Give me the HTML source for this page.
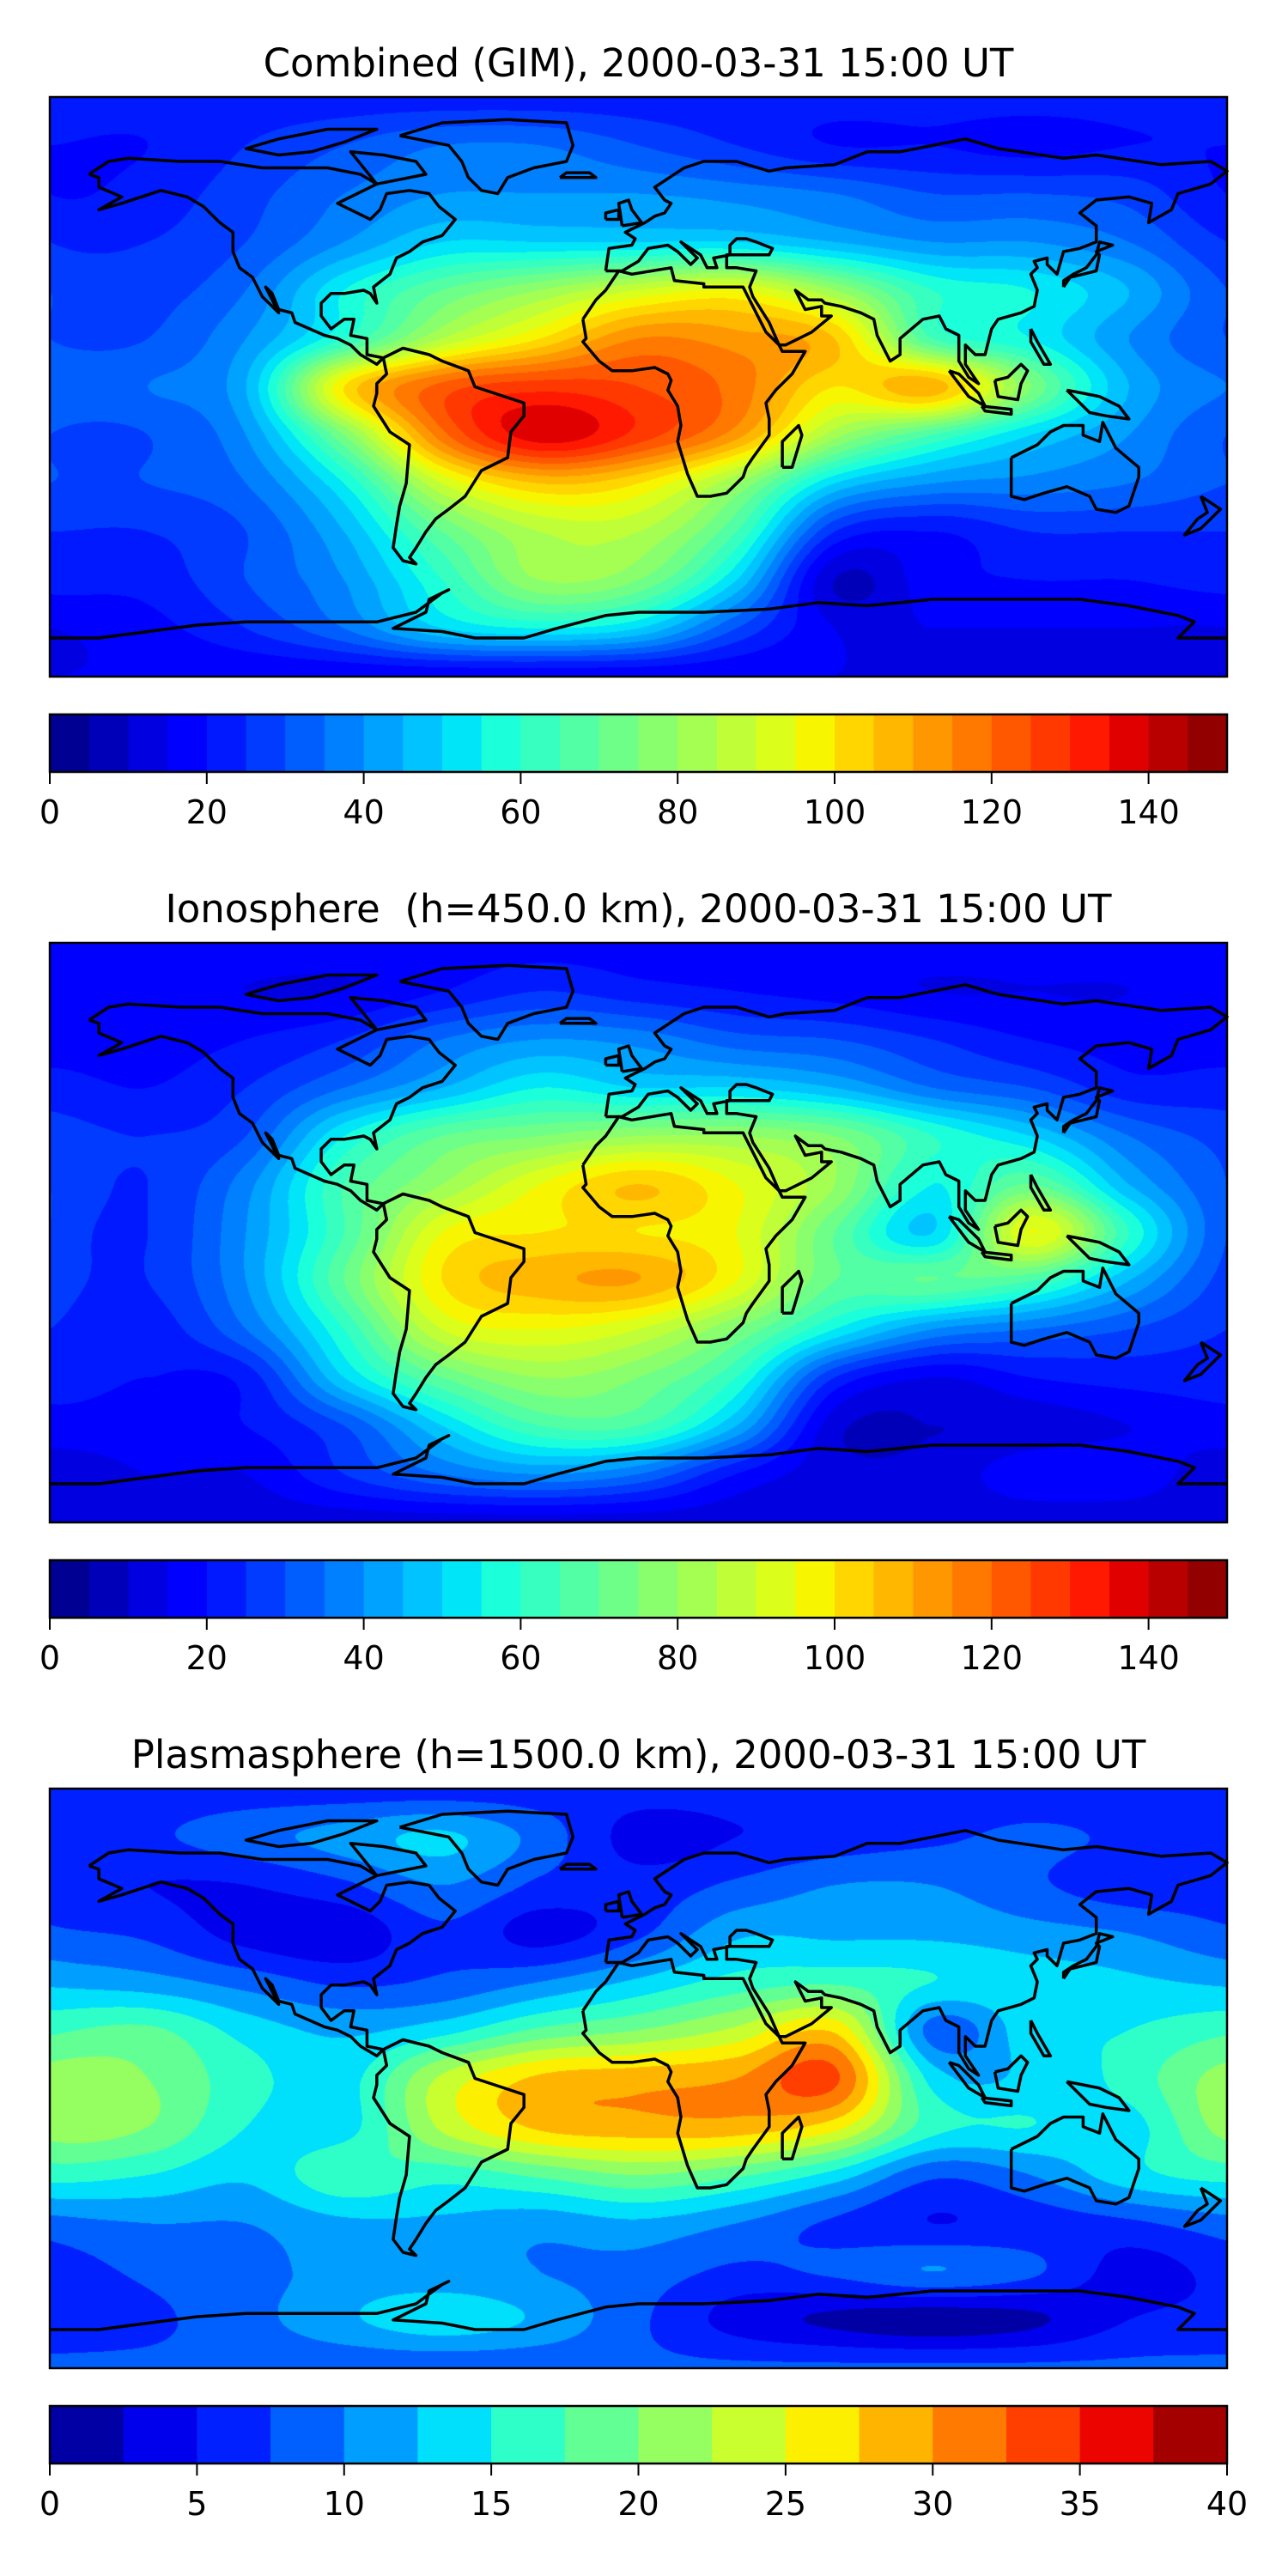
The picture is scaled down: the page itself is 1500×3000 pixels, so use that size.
<!DOCTYPE html>
<html><head><meta charset="utf-8">
<style>
html,body{margin:0;padding:0;background:#fff;}
#root{position:relative;width:1500px;height:3000px;overflow:hidden;background:#fff;}
canvas{position:absolute;}
svg{position:absolute;left:0;top:0;}
</style></head>
<body>
<div id="root">
<canvas id="c0" width="1371" height="675" style="left:58px;top:113px"></canvas>
<canvas id="c1" width="1371" height="675" style="left:58px;top:1098px"></canvas>
<canvas id="c2" width="1371" height="675" style="left:58px;top:2083px"></canvas>
<svg id="ov" width="1500" height="3000" xmlns="http://www.w3.org/2000/svg"></svg>
</div>
<script>
// ---------- data ----------
const lonTicks = [-180,-150,-120,-90,-60,-30,0,30,60,90,120,150,180];
const latRows = [90,75,60,45,30,15,0,-15,-30,-45,-60,-75,-90];
const titles = ["Combined (GIM), 2000-03-31 15:00 UT","Ionosphere  (h=450.0 km), 2000-03-31 15:00 UT","Plasmasphere (h=1500.0 km), 2000-03-31 15:00 UT"];
const tickLabels0 = [0,20,40,60,80,100,120,140];
const tickLabels2 = [0,5,10,15,20,25,30,35,40];
const levelMax = [150,150,40];
const levelStep = [5,5,2.5];
const gridCombined = [
[22,22,22,22,22,22,22,22,22,22,22,22,22],
[20,20,25,30,35,35,30,25,20,20,18,20,20],
[20,22,28,35,40,40,40,38,35,30,30,28,20],
[25,25,30,40,50,50,50,50,45,40,40,35,25],
[30,28,35,55,70,80,90,95,80,60,55,45,30],
[30,30,40,60,85,100,115,112,105,65,55,40,30],
[35,35,45,100,122,128,125,118,100,108,75,45,35],
[30,30,40,75,118,138,128,112,82,65,50,40,30],
[30,30,35,55,90,105,100,80,50,40,38,35,30],
[25,25,30,45,70,85,85,65,25,20,25,25,25],
[22,22,30,40,60,80,75,50,10,18,20,20,22],
[15,18,25,35,50,55,50,30,15,15,15,15,15],
[15,15,15,15,15,15,15,15,15,15,15,15,15]];
const gridIono = [
[18,18,18,18,18,18,18,18,18,18,18,18,18],
[18,18,15,15,20,25,22,20,18,15,15,15,18],
[18,18,20,25,35,40,38,32,30,25,20,18,18],
[22,20,25,35,45,55,50,50,45,35,30,22,22],
[28,25,30,55,70,75,80,80,75,60,50,35,28],
[30,25,38,65,80,95,105,95,80,55,70,45,30],
[30,25,40,65,95,100,100,95,70,50,95,60,30],
[28,25,40,70,100,108,110,95,70,70,65,45,28],
[25,22,35,60,90,95,90,75,55,40,35,30,25],
[22,20,22,50,70,80,75,60,25,15,20,22,22],
[18,18,20,30,50,65,65,45,12,10,12,15,18],
[12,15,15,25,35,40,35,20,12,12,18,18,12],
[12,12,12,12,12,12,12,12,12,12,12,12,12]];
const gridPlasma = [
[6,6,6,6,6,6,6,6,6,6,6,6,6],
[6,7,9,11,13,9,4,5,6,7,8,7,6],
[6,5,5,7,10,7,6,8,10,10,8,6,6],
[8,7,4,3,7,4,7,12,12,12,11,10,8],
[12,11,9,7,8,10,13,16,17,15,14,13,12],
[17,18,14,12,14,18,20,23,27,9,14,15,17],
[21,20,16,14,23,28,29,30,33,14,13,16,21],
[21,20,15,14,23,28,29,29,26,16,15,14,21],
[16,15,13,17,16,18,20,18,14,8,10,14,16],
[9,10,10,12,12,11,12,10,7,5,6,7,9],
[6,8,9,11,11,10,9,7,8,10,8,4,6],
[6,7,9,12,14,12,8,4,2,1,2,5,6],
[8,8,8,8,8,8,8,8,8,8,8,8,8]];
const grids = [gridCombined, gridIono, gridPlasma];

// ---------- geometry ----------
const MX0=58, MW=1371, MH=675, mapTops=[113,1098,2083];
const cbOff = 719, cbH = 67;
function xOfLon(lon){return MX0 + (lon+180)/360*MW;}
function yOfLat(lat,top){return top + (90-lat)/180*MH;}

// ---------- jet ----------
function seg(pts,x){for(let i=1;i<pts.length;i++){if(x<=pts[i][0]){const a=pts[i-1],b=pts[i];return a[1]+(b[1]-a[1])*(x-a[0])/(b[0]-a[0]);}}return pts[pts.length-1][1];}
const R=[[0,0],[0.35,0],[0.66,1],[0.89,1],[1,0.5]],G=[[0,0],[0.125,0],[0.375,1],[0.64,1],[0.91,0],[1,0]],B=[[0,0.5],[0.11,1],[0.34,1],[0.65,0],[1,0]];
function jet(x){return [Math.round(255*seg(R,x)),Math.round(255*seg(G,x)),Math.round(255*seg(B,x))];}
function palette(p){const n=Math.round(levelMax[p]/levelStep[p]);const a=[];for(let i=0;i<n;i++)a.push(jet((i+0.5)/n));return a;}

// ---------- interpolation ----------
function cr(p0,p1,p2,p3,t){return 0.5*((2*p1)+(-p0+p2)*t+(2*p0-5*p1+4*p2-p3)*t*t+(-p0+3*p1-3*p2+p3)*t*t*t);}
function drawMap(p){
  const g=grids[p], cv=document.getElementById('c'+p), ctx=cv.getContext('2d');
  const img=ctx.createImageData(MW,MH), d=img.data, pal=palette(p), n=pal.length, st=levelStep[p];
  const nc=lonTicks.length-1, nr=latRows.length-1;
  const col=(j)=>((j%nc)+nc)%nc, row=(i)=>Math.max(0,Math.min(nr,i));
  const rowVals=new Float32Array(nc);
  for(let py=0;py<MH;py++){
    const v=(py+0.5)/MH*nr, i=Math.floor(v), t=v-i;
    for(let j=0;j<nc;j++){rowVals[j]=cr(g[row(i-1)][j],g[row(i)][j],g[row(i+1)][j],g[row(i+2)][j],t);}
    for(let px=0;px<MW;px++){
      const u=(px+0.5)/MW*nc, k=Math.floor(u), s=u-k;
      const val=cr(rowVals[col(k-1)],rowVals[col(k)],rowVals[col(k+1)],rowVals[col(k+2)],s);
      let li=Math.floor(val/st); if(li<0)li=0; if(li>n-1)li=n-1;
      const c=pal[li], o=(py*MW+px)*4;
      d[o]=c[0];d[o+1]=c[1];d[o+2]=c[2];d[o+3]=255;
    }
  }
  ctx.putImageData(img,0,0);
}

// ---------- coastlines ----------
const coasts = {
 "north-america":[[-168,66],[-162,70],[-156,71],[-140,70],[-128,70],[-115,68],[-95,68],[-85,66],[-80,63],[-90,58],[-92,57],[-82,52],[-79,55],[-77,60],[-70,61],[-64,60],[-61,56],[-56,52],[-60,47],[-66,45],[-70,42],[-74,40],[-76,35],[-81,31],[-80,26],[-82,29],[-84,30],[-90,29],[-94,29],[-97,26],[-97,22],[-94,18],[-90,21],[-87,21],[-88,16],[-83,15],[-83,10],[-78,9],[-80,7],[-85,10],[-88,13],[-92,15],[-96,16],[-105,20],[-106,23],[-110,24],[-112,29],[-114,31],[-110,23],[-115,28],[-118,34],[-122,37],[-124,42],[-124,48],[-128,51],[-133,56],[-138,59],[-146,61],[-152,59],[-158,57],[-165,55],[-158,59],[-165,62],[-165,65],[-168,66]],
 "greenland":[[-73,78],[-60,82],[-40,83],[-22,82],[-20,75],[-22,70],[-32,68],[-40,65],[-43,60],[-48,61],[-52,65],[-54,70],[-58,75],[-68,77],[-73,78]],
 "baffin":[[-80,63],[-65,66],[-68,70],[-78,72],[-88,73],[-80,63]],
 "arctic-islands":[[-100,73],[-90,76],[-80,80],[-95,80],[-110,77],[-120,74],[-110,72],[-100,73]],
 "iceland":[[-24,65],[-13,65],[-15,66.5],[-22,66.5],[-24,65]],
 "south-america":[[-78,9],[-72,12],[-64,10],[-60,8],[-52,5],[-50,0],[-44,-2],[-35,-5],[-35,-9],[-39,-14],[-40,-22],[-48,-26],[-53,-34],[-58,-38],[-62,-41],[-65,-45],[-68,-50],[-70,-53],[-68,-55],[-72,-54],[-75,-50],[-74,-43],[-73,-37],[-71,-30],[-70,-18],[-76,-14],[-81,-6],[-80,-2],[-80,1],[-77,4],[-78,9]],
 "africa":[[-17,21],[-16,15],[-17,14],[-12,8],[-8,5],[-2,5],[5,6],[9,4],[10,2],[9,-1],[12,-6],[13,-12],[12,-17],[15,-27],[18,-34],[22,-34],[27,-33],[32,-28],[33,-25],[35,-22],[40,-15],[40,-10],[39,-5],[42,-1],[47,4],[51,11],[44,11],[43,13],[39,17],[35,25],[32,31],[30,31],[20,31],[20,32],[11,33],[10,37],[-2,35],[-6,36],[-10,30],[-13,27],[-17,21]],
 "madagascar":[[44,-25],[47,-25],[50,-15],[49,-12],[44,-17],[44,-25]],
 "eurasia":[[-10,36],[-9,43],[-2,44],[-1,46],[-4,48],[2,51],[5,53],[8,54],[10,57],[8,58],[5,62],[14,68],[20,70],[30,70],[40,67],[45,68],[60,69],[70,73],[80,73],[100,77],[110,74],[130,71],[140,72],[160,69],[175,70],[180,67],[175,63],[165,60],[163,55],[156,51],[157,57],[150,59],[140,58],[135,54],[140,50],[140,45],[135,43],[130,42],[128,35],[125,38],[125,40],[121,39],[122,37],[120,35],[122,30],[121,25],[117,23],[110,21],[108,18],[106,10],[103,10],[100,13],[100,7],[104,1],[101,3],[98,8],[98,16],[94,18],[92,22],[87,21],[80,15],[80,10],[77,8],[73,16],[72,21],[68,23],[62,25],[57,26],[56,27],[52,27],[48,30],[50,26],[51,24],[56,25],[56,22],[59,22],[53,17],[45,13],[43,13],[40,20],[35,28],[34,31],[36,36],[30,37],[27,37],[27,41],[30,41],[40,41],[41,43],[36,45],[33,46],[30,46],[28,44],[28,41],[23,40],[24,37],[21,37],[19,41],[13,45],[16,42],[18,40],[16,38],[12,42],[9,44],[3,43],[0,39],[-5,36],[-10,36]],
 "great-britain":[[-5,50],[1,51],[-2,55],[-3,58],[-6,57],[-5,50]],
 "ireland":[[-10,52],[-6,52],[-6,55],[-10,54],[-10,52]],
 "japan":[[130,31],[132,34],[136,35],[140,36],[141,41],[140,42],[145,44],[141,45],[140,41],[137,37],[133,35],[130,33],[130,31]],
 "sumatra":[[95,5],[98,4],[104,-2],[106,-6],[101,-3],[95,5]],
 "borneo":[[109,2],[113,3],[117,7],[119,5],[117,1],[116,-4],[110,-3],[109,2]],
 "java":[[105,-6],[114,-7],[114,-8.5],[106,-7.5],[105,-6]],
 "new-guinea":[[131,-1],[136,-2],[141,-3],[147,-6],[150,-10],[143,-9],[138,-8],[131,-1]],
 "philippines":[[120,18],[122,14],[126,7],[124,7],[120,14],[120,18]],
 "australia":[[114,-22],[114,-34],[118,-35],[124,-33],[131,-31],[138,-34],[140,-38],[146,-39],[150,-37],[153,-28],[153,-25],[146,-19],[142,-11],[141,-17],[136,-15],[136,-12],[130,-12],[126,-14],[122,-18],[114,-22]],
 "new-zealand":[[172,-34],[178,-38],[175,-41],[172,-44],[167,-46],[171,-41],[174,-39],[172,-34]],
 "antarctica":[[-180,-78],[-165,-78],[-150,-76],[-135,-74],[-120,-73],[-100,-73],[-80,-73],[-68,-70],[-60,-64],[-58,-63],[-64,-66],[-65,-70],[-75,-75],[-60,-76],[-50,-78],[-35,-78],[-25,-75],[-10,-71],[0,-70],[20,-70],[40,-69],[55,-67],[70,-68],[80,-67],[90,-66],[100,-66],[120,-66],[135,-66],[150,-68],[165,-71],[170,-73],[165,-78],[180,-78]]
};

const NS="http://www.w3.org/2000/svg", ov=document.getElementById('ov');
function el(tag,attrs,parent){const e=document.createElementNS(NS,tag);for(const k in attrs)e.setAttribute(k,attrs[k]);(parent||ov).appendChild(e);return e;}

for(let p=0;p<3;p++){
  drawMap(p);
  const top=mapTops[p];
  const grp=el('g',{});
  
  
  const t=el('text',{x:743.5,y:top-24,'text-anchor':'middle','font-family':'DejaVu Sans, Liberation Sans, sans-serif','font-size':'45','fill':'#000','style':'white-space:pre'},grp);
  t.textContent=titles[p];
  
  
  const cg=el('g',{fill:'none',stroke:'#000','stroke-width':'3.5','stroke-linejoin':'round'},grp);
  
  
  for(const name in coasts){
    const pts=coasts[name].map(q=>xOfLon(q[0]).toFixed(1)+','+yOfLat(q[1],top).toFixed(1)).join(' ');
    const pl=el('polyline',{points:pts},cg);
    
    
  }
  const fr=el('rect',{x:MX0,y:top,width:MW,height:MH,fill:'none',stroke:'#000','stroke-width':'2.5'},grp);
  
  
  const cbTop=top+cbOff, pal=palette(p), n=pal.length, bw=MW/n;
  const cb=el('g',{},grp);
  
  
  for(let i=0;i<n;i++){
    const c=pal[i];
    const r=el('rect',{x:(MX0+i*bw).toFixed(2),y:cbTop,width:(bw+0.6).toFixed(2),height:cbH,fill:'rgb('+c.join(',')+')'},cb);
    
    
  }
  const cf=el('rect',{x:MX0,y:cbTop,width:MW,height:cbH,fill:'none',stroke:'#000','stroke-width':'2.5'},cb);
  
  
  const labs = p<2?tickLabels0:tickLabels2;
  for(const v of labs){
    const x=MX0+v/levelMax[p]*MW;
    const tk=el('line',{x1:x,x2:x,y1:cbTop+cbH,y2:cbTop+cbH+14,stroke:'#000','stroke-width':'2'},cb);
    
    
    const tl=el('text',{x:x,y:cbTop+cbH+60,'text-anchor':'middle','font-family':'DejaVu Sans, Liberation Sans, sans-serif','font-size':'38','fill':'#000'},cb);
    tl.textContent=String(v);
    
    
  }
}
</script>
</body></html>
